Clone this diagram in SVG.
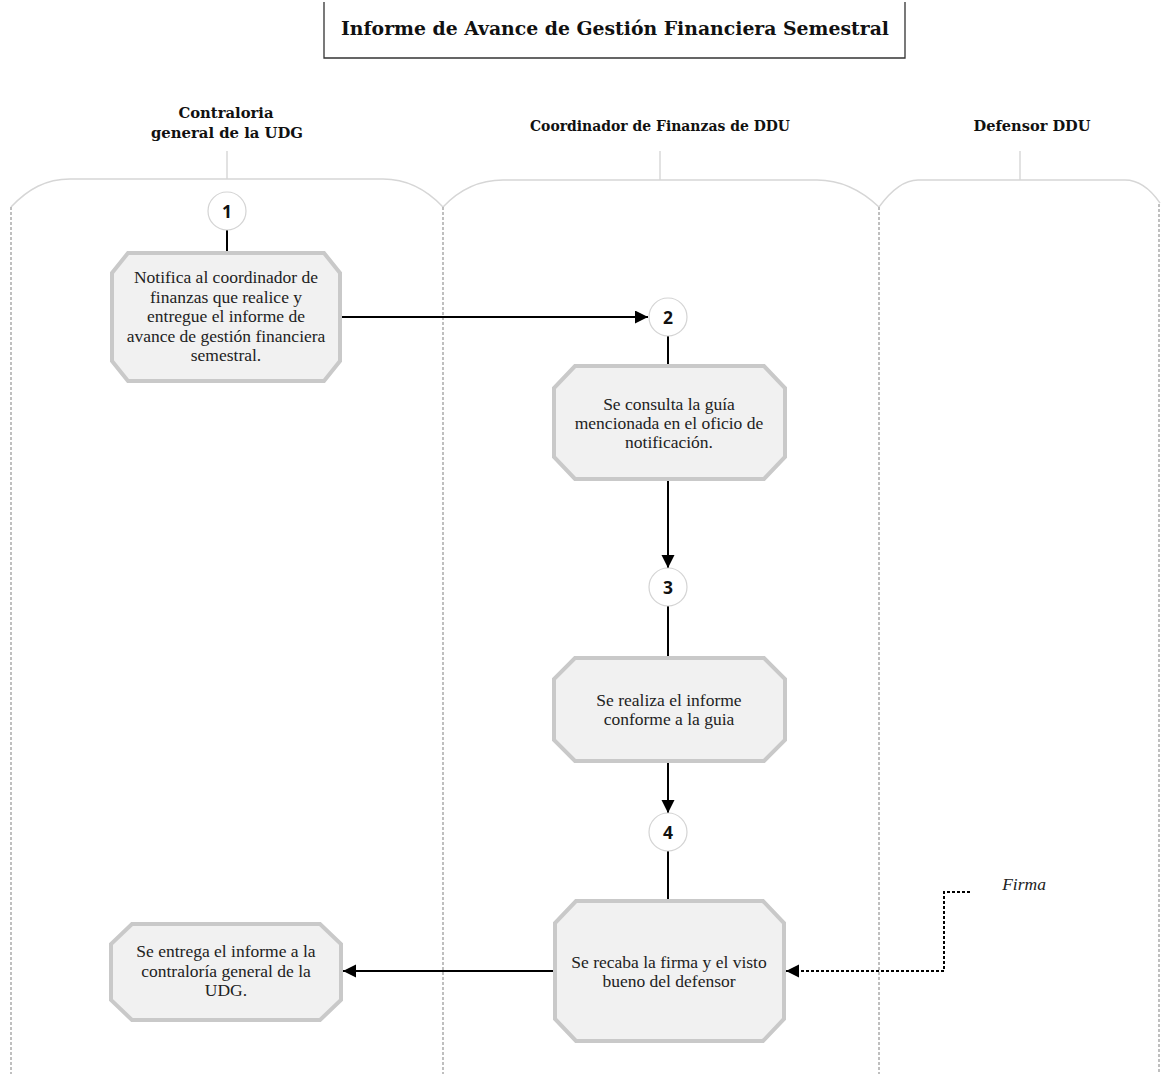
<svg xmlns="http://www.w3.org/2000/svg" width="1161" height="1074" viewBox="0 0 1161 1074">
<style>
.bg{fill:#ffffff}
.title{font-family:"DejaVu Serif","Liberation Serif",serif;font-weight:bold;font-size:18.5px;fill:#111;text-anchor:middle}
.hdr{font-family:"DejaVu Serif","Liberation Serif",serif;font-weight:bold;font-size:14.5px;fill:#111;text-anchor:middle}
.lane{fill:none;stroke:#d6d6d6;stroke-width:1.4}
.stub{stroke:#cfcfcf;stroke-width:1.2}
.div{stroke:#aaaaaa;stroke-width:1.5;stroke-dasharray:3 2}
.box{fill:#f1f1f1;stroke:#c9c9c9;stroke-width:4;stroke-linejoin:miter}
.txt{font-family:"Liberation Serif","Times New Roman",serif;font-size:17.5px;fill:#222;text-anchor:middle}
.circ{fill:#ffffff;stroke:#d4d4d4;stroke-width:1.2}
.num{font-family:"Open Sans","Liberation Sans",sans-serif;font-weight:bold;font-size:17.5px;fill:#111;text-anchor:middle}
.ln{fill:none;stroke:#000;stroke-width:2}
.dot{fill:none;stroke:#000;stroke-width:2;stroke-dasharray:3 2}
.lbl{font-family:"Liberation Serif","Times New Roman",serif;font-style:italic;font-size:17.5px;fill:#222;text-anchor:middle}
</style>
<defs>
<marker id="arr" markerUnits="userSpaceOnUse" markerWidth="14" markerHeight="14" refX="13" refY="6.5" orient="auto">
<path d="M0,0 L13,6.5 L0,13 Z" fill="#000"/>
</marker>
</defs>
<rect class="bg" x="0" y="0" width="1161" height="1074"/>

<g id="title">
<path d="M324,2 L324,58 L905,58 L905,2" fill="none" stroke="#333" stroke-width="1.3"/>
<text class="title" x="615" y="35" textLength="548" lengthAdjust="spacingAndGlyphs">Informe de Avance de Gestión Financiera Semestral</text>
</g>

<g id="lanes">
<text class="hdr" x="226" y="118" textLength="95" lengthAdjust="spacingAndGlyphs">Contraloria</text>
<text class="hdr" x="227" y="138" textLength="152" lengthAdjust="spacingAndGlyphs">general de la UDG</text>
<text class="hdr" x="660" y="131" textLength="260" lengthAdjust="spacingAndGlyphs">Coordinador de Finanzas de DDU</text>
<text class="hdr" x="1032" y="131" textLength="117" lengthAdjust="spacingAndGlyphs">Defensor DDU</text>
<line class="stub" x1="227" y1="151" x2="227" y2="179"/>
<line class="stub" x1="660" y1="151" x2="660" y2="180"/>
<line class="stub" x1="1020" y1="151" x2="1020" y2="180"/>
<path class="lane" d="M11,207 C28,189 46,179 70,179 L383,179 C407,179 426,189 443,207"/>
<path class="lane" d="M443,207 C459,190 479,180 503,180 L817,180 C840,180 861,190 879,207"/>
<path class="lane" d="M879,207 C890,192 903,180 918,180 L1125,180 C1139,180 1151,190 1160,203"/>
<line class="div" x1="11" y1="207" x2="11" y2="1074"/>
<line class="div" x1="443" y1="207" x2="443" y2="1074"/>
<line class="div" x1="879" y1="207" x2="879" y2="1074"/>
<line class="div" x1="1159" y1="204" x2="1159" y2="1074"/>
</g>

<g id="connectors">
<line class="ln" x1="227" y1="230" x2="227" y2="252"/>
<line class="ln" x1="342" y1="317" x2="648" y2="317" marker-end="url(#arr)"/>
<line class="ln" x1="668" y1="336" x2="668" y2="365"/>
<line class="ln" x1="668" y1="481" x2="668" y2="568" marker-end="url(#arr)"/>
<line class="ln" x1="668" y1="606" x2="668" y2="657"/>
<line class="ln" x1="668" y1="763" x2="668" y2="813" marker-end="url(#arr)"/>
<line class="ln" x1="668" y1="851" x2="668" y2="900"/>
<line class="ln" x1="553" y1="971" x2="343" y2="971" marker-end="url(#arr)"/>
<path class="dot" d="M970,892 L944,892 L944,971 L786,971" marker-end="url(#arr)"/>
<text class="lbl" x="1024" y="890">Firma</text>
</g>

<g id="c1"><circle class="circ" cx="227" cy="211" r="19"/><text class="num" x="227" y="217.5">1</text></g>
<g id="c2"><circle class="circ" cx="668" cy="317" r="19"/><text class="num" x="668" y="323.5">2</text></g>
<g id="c3"><circle class="circ" cx="668" cy="587" r="19"/><text class="num" x="668" y="593.5">3</text></g>
<g id="c4"><circle class="circ" cx="668" cy="832" r="19"/><text class="num" x="668" y="838.5">4</text></g>

<g id="n1">
<polygon class="box" points="128,253 324,253 340,273 340,361 324,381 128,381 112,361 112,273"/>
<text class="txt" x="226" y="283">Notifica al coordinador de</text>
<text class="txt" x="226" y="302.5">finanzas que realice y</text>
<text class="txt" x="226" y="322">entregue el informe de</text>
<text class="txt" x="226" y="341.5">avance de gestión financiera</text>
<text class="txt" x="226" y="361">semestral.</text>
</g>

<g id="n2">
<polygon class="box" points="575,366 764,366 785,388 785,457 764,479 575,479 554,457 554,388"/>
<text class="txt" x="669" y="410">Se consulta la guía</text>
<text class="txt" x="669" y="429">mencionada en el oficio de</text>
<text class="txt" x="669" y="448">notificación.</text>
</g>

<g id="n3">
<polygon class="box" points="575,658 764,658 785,679 785,740 764,761 575,761 554,740 554,679"/>
<text class="txt" x="669" y="705.5">Se realiza el informe</text>
<text class="txt" x="669" y="724.5">conforme a la guia</text>
</g>

<g id="n4">
<polygon class="box" points="576,901 763,901 784,923 784,1019 763,1041 576,1041 555,1019 555,923"/>
<text class="txt" x="669" y="967.5">Se recaba la firma y el visto</text>
<text class="txt" x="669" y="986.5">bueno del defensor</text>
</g>

<g id="n5">
<polygon class="box" points="132,924 320,924 341,944 341,1000 320,1020 132,1020 111,1000 111,944"/>
<text class="txt" x="226" y="957">Se entrega el informe a la</text>
<text class="txt" x="226" y="976.5">contraloría general de la</text>
<text class="txt" x="226" y="996">UDG.</text>
</g>
</svg>
